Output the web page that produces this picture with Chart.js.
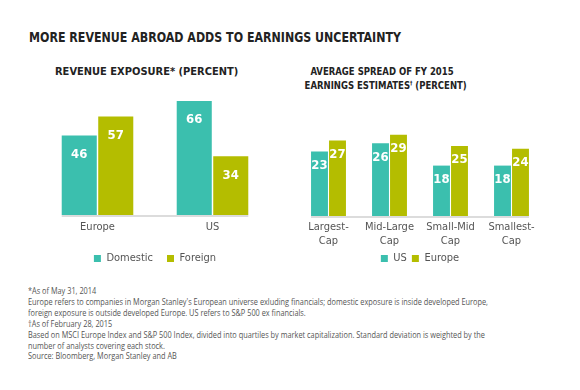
<!DOCTYPE html>
<html>
<head>
<meta charset="utf-8">
<script src="https://cdn.jsdelivr.net/npm/chart.js@4"></script>
<style>
  body { margin: 0; width: 580px; height: 390px; background: #fff; position: relative; overflow: hidden; font-family: "DejaVu Sans Condensed", "DejaVu Sans", sans-serif; }
  .title { position: absolute; left: 29px; top: 29px; font-size: 14px; font-weight: bold; color: #222; white-space: nowrap; transform-origin: left center; }
  .sub { position: absolute; font-size: 11px; font-weight: bold; color: #222; text-align: center; line-height: 14px; white-space: nowrap; transform-origin: center center; }
  .dag { font-size: 6px; position: relative; top: -4px; }
  .box { position: absolute; }
  .notes { position: absolute; left: 28px; top: 286px; font-family: "Liberation Sans Narrow", "Open Sans", sans-serif; font-size: 8.8px; line-height: 10.9px; color: #555; white-space: nowrap; transform-origin: left top; }
</style>
</head>
<body>
<div class="title" id="title">MORE REVENUE ABROAD ADDS TO EARNINGS UNCERTAINTY</div>
<div class="sub" style="left:55px; top:65px; width:160px;">REVENUE EXPOSURE* (PERCENT)</div>
<div class="sub" style="left:292px; top:65px; width:180px; transform: scaleX(0.86);">AVERAGE SPREAD OF FY 2015<br>EARNINGS ESTIMATES<span class="dag">†</span> (PERCENT)</div>
<div class="box" style="left:40px; top:94px; width:230px; height:180px;"><canvas id="revChart"></canvas></div>
<div class="box" style="left:298px; top:132px; width:244px; height:142px;"><canvas id="spreadChart"></canvas></div>
<div class="notes" id="notes">
*As of May 31, 2014<br>
Europe refers to companies in Morgan Stanley's European universe exluding financials; domestic exposure is inside developed Europe,<br>
foreign exposure is outside developed Europe. US refers to S&amp;P 500 ex financials.<br>
†As of February 28, 2015<br>
Based on MSCI Europe Index and S&amp;P 500 Index, divided into quartiles by market capitalization. Standard deviation is weighted by the<br>
number of analysts covering each stock.<br>
Source: Bloomberg, Morgan Stanley and AB
</div>
<script>
const revRegions = ['Europe', 'US'];
const revDomestic = [46, 66];
const revForeign = [57, 34];

const capGroups = [['Largest-', 'Cap'], ['Mid-Large', 'Cap'], ['Small-Mid', 'Cap'], ['Smallest-', 'Cap']];
const spreadUS = [23, 26, 18, 18];
const spreadEurope = [27, 29, 25, 24];

const teal = '#3bbfae';
const olive = '#b4bd00';
const axisFont = { family: '"DejaVu Sans Condensed", "DejaVu Sans", sans-serif', size: 11, lineHeight: 1.2 };

// squeeze a text block to the width it has in the reference
const fitWidth = (id, w) => {
  const el = document.getElementById(id);
  const span = document.createElement('span');
  span.innerHTML = el.innerHTML;
  span.style.whiteSpace = 'nowrap';
  span.style.display = 'inline-block';
  el.innerHTML = '';
  el.appendChild(span);
  const k = w / span.getBoundingClientRect().width;
  el.style.transform = `scaleX(${k})`;
};
fitWidth('title', 372);
fitWidth('notes', 460);

// white value labels near the top of each bar
const barValues = {
  id: 'barValues',
  afterDatasetsDraw(chart, args, opts) {
    const { ctx } = chart;
    ctx.save();
    ctx.fillStyle = '#fff';
    ctx.font = `bold ${opts.size}px "DejaVu Sans Condensed", "DejaVu Sans", sans-serif`;
    ctx.textAlign = 'center';
    ctx.textBaseline = 'middle';
    chart.data.datasets.forEach((ds, i) => {
      chart.getDatasetMeta(i).data.forEach((bar, j) => {
        ctx.fillText(ds.data[j], bar.x, bar.y + opts.offset);
      });
    });
    ctx.restore();
  }
};

// grey baseline running under the bars only
const baseLine = {
  id: 'baseLine',
  beforeDatasetsDraw(chart) {
    const { ctx } = chart;
    const first = chart.getDatasetMeta(0).data[0];
    const metaLast = chart.getDatasetMeta(chart.data.datasets.length - 1).data;
    const last = metaLast[metaLast.length - 1];
    const y = chart.scales.y.getPixelForValue(0);
    ctx.save();
    ctx.strokeStyle = '#dcdcdc';
    ctx.lineWidth = 2;
    ctx.beginPath();
    ctx.moveTo(first.x - first.width / 2, y + 1);
    ctx.lineTo(last.x + last.width / 2, y + 1);
    ctx.stroke();
    ctx.restore();
  }
};

const legendOpts = (pad) => ({
  position: 'bottom',
  labels: { usePointStyle: true, pointStyle: 'rect', boxWidth: 7, boxHeight: 7, color: '#555', font: axisFont, padding: pad }
});

const xAxis = (pad, h) => ({
  grid: { display: false, drawTicks: false },
  border: { display: false },
  ticks: { color: '#555', font: axisFont, padding: pad, maxRotation: 0 },
  afterFit: (scale) => { scale.height = h; }
});

new Chart(document.getElementById('revChart'), {
  type: 'bar',
  data: {
    labels: revRegions,
    datasets: [
      { label: 'Domestic', data: revDomestic, backgroundColor: teal, categoryPercentage: 0.635, barPercentage: 0.96 },
      { label: 'Foreign', data: revForeign, backgroundColor: olive, categoryPercentage: 0.635, barPercentage: 0.96 }
    ]
  },
  plugins: [barValues, baseLine],
  options: {
    responsive: true,
    maintainAspectRatio: false,
    animation: false,
    layout: { padding: 0 },
    plugins: { legend: legendOpts(14), tooltip: { enabled: false }, barValues: { size: 13, offset: 19 } },
    scales: {
      x: xAxis(6, 24),
      y: { display: false, min: 0, max: 70 }
    }
  }
});

new Chart(document.getElementById('spreadChart'), {
  type: 'bar',
  data: {
    labels: capGroups,
    datasets: [
      { label: 'US', data: spreadUS, backgroundColor: teal, categoryPercentage: 0.59, barPercentage: 0.94 },
      { label: 'Europe', data: spreadEurope, backgroundColor: olive, categoryPercentage: 0.59, barPercentage: 0.94 }
    ]
  },
  plugins: [barValues, baseLine],
  options: {
    responsive: true,
    maintainAspectRatio: false,
    animation: false,
    layout: { padding: 0 },
    plugins: { legend: legendOpts(5), tooltip: { enabled: false }, barValues: { size: 13, offset: 14 } },
    scales: {
      x: xAxis(5, 32),
      y: { display: false, min: 0, max: 30 }
    }
  }
});
</script>
</body>
</html>
